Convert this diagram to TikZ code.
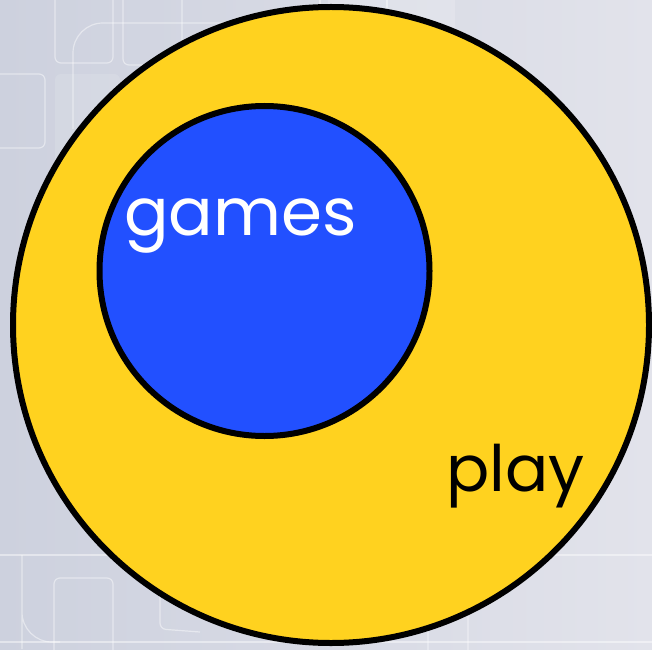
\documentclass[tikz,border=0pt]{standalone}
\usepackage{fontspec}
\setmainfont{Poppins}
\definecolor{bgL}{HTML}{CDD1DE}
\definecolor{bgR}{HTML}{E2E3EB}
\definecolor{yel}{HTML}{FFD21F}
\definecolor{blu}{HTML}{2250FF}
\begin{document}
\begin{tikzpicture}[x=1pt,y=1pt,
  tile/.style={draw=white,draw opacity=0.45,line width=1.2pt,rounded corners=6pt},
  bigtile/.style={draw=white,draw opacity=0.45,line width=1.2pt,rounded corners=30pt},
  ring/.style={circle,draw=black,line width=6pt,inner sep=0pt}]
\shade[left color=bgL,right color=bgR] (0,0) rectangle (652,649);
\useasboundingbox (0,0) rectangle (652,649);
% background tiles (top)
\draw[tile] (55,660) rectangle (113,586);
\draw[tile] (123,660) rectangle (182,584);
\draw[tile] (-10,575) rectangle (45,501);
\fill[white,opacity=0.12,rounded corners=6pt] (55,575) rectangle (120,480);
\draw[bigtile] (73,520) -- (73,626) -- (428,626) -- (428,520);
\fill[white,opacity=0.18,rounded corners=6pt] (328,660) rectangle (455,586);
\draw[tile] (320,660) -- (320,600);
\draw[tile] (387,660) -- (387,600);
% background tiles (bottom)
\draw[bigtile] (22,94) -- (22,30) -- (22,7) -- (60,7);
\draw[tile] (54,71) rectangle (113,-10);
\draw[tile] (160,110) -- (160,20) -- (200,17);
\draw[tile] (428,79) rectangle (468,-10);
\draw[tile] (0,94) -- (652,94);
\draw[tile] (0,7) -- (652,7);
% circles
\node[ring,fill=yel,minimum size=636pt] (play) at (331,324) {};
\node[ring,fill=blu,minimum size=330pt] (games) at (264.5,378) {};
\node[text=white,font=\fontsize{66}{66}\selectfont,anchor=base west,inner sep=0pt] (gamestxt) at (124,414) {games};
\node[text=black,font=\fontsize{64}{64}\selectfont,anchor=base west,inner sep=0pt] (playtxt) at (446,158) {play};
\end{tikzpicture}
\end{document}
